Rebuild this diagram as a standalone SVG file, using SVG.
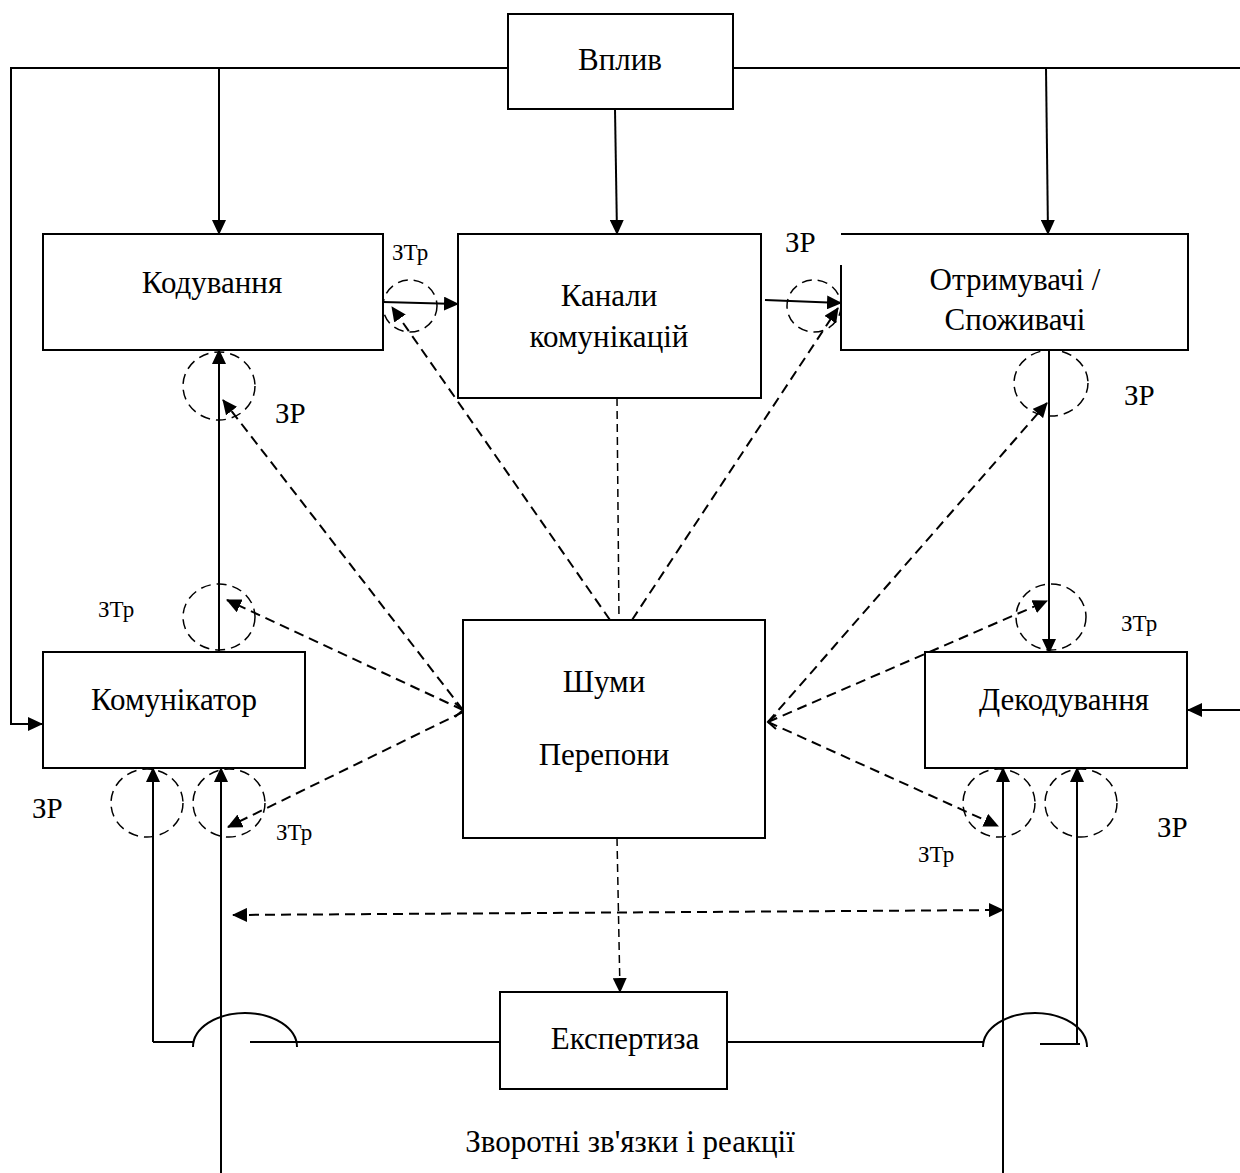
<svg xmlns="http://www.w3.org/2000/svg" width="1240" height="1173" viewBox="0 0 1240 1173">
<style>
.box{fill:#fff;stroke:#000;stroke-width:2}
.t{font-family:"Liberation Serif","Times New Roman",serif;font-size:31px;fill:#000;text-anchor:middle}
.lbl{font-family:"Liberation Serif","Times New Roman",serif;font-size:29px;fill:#000}
.sm{font-family:"Liberation Serif","Times New Roman",serif;font-size:23px;fill:#000}
.ln{fill:none;stroke:#000;stroke-width:2}
.ar{fill:none;stroke:#000;stroke-width:2;marker-end:url(#ah)}
.da{fill:none;stroke:#000;stroke-width:2;stroke-dasharray:10 6;marker-end:url(#ah)}
.dl{fill:none;stroke:#000;stroke-width:1.5;stroke-dasharray:8 5}
.ring{fill:none;stroke:#000;stroke-width:1.5;stroke-dasharray:10 6}
</style>
<defs>
<marker id="ah" markerUnits="userSpaceOnUse" markerWidth="15" markerHeight="14" refX="14" refY="7" orient="auto-start-reverse">
<path d="M0,0 L15,7 L0,14 z" fill="#000"/>
</marker>
</defs>
<rect width="1240" height="1173" fill="#fff"/>
<g id="connectors">
<path class="ln" d="M508,68 H11 V724 H30"/>
<path class="ar" d="M11,724 H42"/>
<path class="ln" d="M733,68 H1240"/>
<path class="ar" d="M219,68 V234"/>
<path class="ar" d="M615,109 L617,234"/>
<path class="ar" d="M1046,68 L1048,234"/>
<path class="ar" d="M1240,710 H1188"/>
<path class="ar" d="M383,302 L458,304"/>
<path class="ar" d="M765,300 L841,303"/>
<path class="ar" d="M219,653 V350"/>
<path class="ar" d="M1049,350 V653"/>
<path class="ar" d="M153,1042 V768"/>
<path class="ar" d="M221,1173 V768"/>
<path class="ar" d="M1003,1173 V768"/>
<path class="ar" d="M1077,1044 V768"/>
<path class="ln" d="M153,1042 H193 M250,1042 H500 M727,1042 H983 M1040,1044 H1080"/>
<path class="ln" d="M193,1047 A52,34 0 0 1 297,1047"/>
<path class="ln" d="M983,1047 A52,34 0 0 1 1087,1047"/>
<path class="dl" d="M617,398 L619,620"/>
<path class="da" d="M610,620 L392,307"/>
<path class="da" d="M632,620 L838,308"/>
<path class="da" d="M463,710 L223,400"/>
<path class="da" d="M463,710 L227,600"/>
<path class="da" d="M463,712 L228,827"/>
<path class="da" d="M768,722 L1047,403"/>
<path class="da" d="M768,722 L1047,601"/>
<path class="da" d="M768,722 L998,826"/>
<path class="dl" d="M617,838 L620,992" marker-end="url(#ah)"/>
<path class="da" d="M233,915 L1003,910" marker-start="url(#ah)"/>
<path class="ln" stroke-width="1.5" d="M455,703 L463,710 L455,717 M776,715 L768,722 L776,729"/>
<ellipse class="ring" cx="410" cy="306" rx="27" ry="26"/>
<ellipse class="ring" cx="814" cy="306" rx="27" ry="26"/>
<ellipse class="ring" cx="219" cy="386" rx="36" ry="34"/>
<ellipse class="ring" cx="1051" cy="383" rx="37" ry="33"/>
<ellipse class="ring" cx="219" cy="617" rx="36" ry="33"/>
<ellipse class="ring" cx="1051" cy="617" rx="35" ry="33"/>
<ellipse class="ring" cx="147" cy="803" rx="36" ry="34"/>
<ellipse class="ring" cx="229" cy="803" rx="36" ry="34"/>
<ellipse class="ring" cx="999" cy="803" rx="36" ry="34"/>
<ellipse class="ring" cx="1081" cy="803" rx="36" ry="34"/>
</g>
<g id="vplyv">
<rect class="box" x="508" y="14" width="225" height="95"/>
<text class="t" x="620" y="70">Вплив</text>
</g>
<g id="koduvannia">
<rect class="box" x="43" y="234" width="340" height="116"/>
<text class="t" x="212" y="293">Кодування</text>
</g>
<g id="kanaly">
<rect class="box" x="458" y="234" width="303" height="164"/>
<text class="t" x="609" y="306">Канали</text>
<text class="t" x="609" y="347">комунікацій</text>
</g>
<g id="otrymuvachi">
<path class="box" d="M841,265 V350 H1188 V234 H841"/>
<text class="t" x="1015" y="290">Отримувачі /</text>
<text class="t" x="1015" y="330">Споживачі</text>
</g>
<g id="komunikator">
<rect class="box" x="43" y="652" width="262" height="116"/>
<text class="t" x="174" y="710">Комунікатор</text>
</g>
<g id="shumy">
<rect class="box" x="463" y="620" width="302" height="218"/>
<text class="t" x="604" y="692">Шуми</text>
<text class="t" x="604" y="765">Перепони</text>
</g>
<g id="dekoduvannia">
<rect class="box" x="925" y="652" width="262" height="116"/>
<text class="t" x="1064" y="710">Декодування</text>
</g>
<g id="ekspertyza">
<rect class="box" x="500" y="992" width="227" height="97"/>
<text class="t" x="625" y="1049">Експертиза</text>
</g>
<g id="labels">
<text class="sm" x="392" y="260">ЗТр</text>
<text class="lbl" x="785" y="252">ЗР</text>
<text class="lbl" x="275" y="423">ЗР</text>
<text class="lbl" x="1124" y="405">ЗР</text>
<text class="sm" x="98" y="617">ЗТр</text>
<text class="sm" x="1121" y="631">ЗТр</text>
<text class="lbl" x="32" y="818">ЗР</text>
<text class="sm" x="276" y="840">ЗТр</text>
<text class="lbl" x="1157" y="837">ЗР</text>
<text class="sm" x="918" y="862">ЗТр</text>
<text class="t" x="630" y="1152">Зворотні зв'язки і реакції</text>
</g>
</svg>
